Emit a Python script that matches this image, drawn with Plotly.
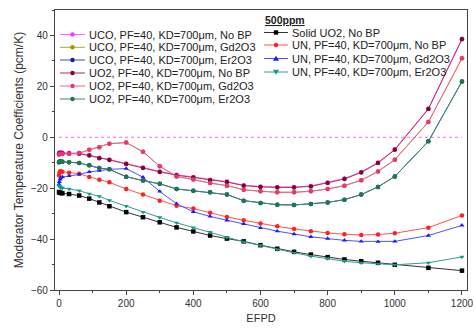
import plotly.graph_objects as go

# ---------------- data ----------------
efpd = [0, 1, 3, 5, 10, 30, 60, 90, 120, 150, 200, 250, 300, 350, 400, 450, 500,
        550, 600, 650, 700, 750, 800, 850, 900, 950, 1000, 1100, 1200]

uco_nobp = [-6.3, -6.1, -6.0, -6.0, -6.1, -6.2, -6.3, -7.0, -8.0, -8.7, -10.3, -11.9, -13.4, -14.7,
            -15.6, -16.7, -17.4, -18.8, -19.3, -19.5, -19.5, -19.1, -17.8, -16.2, -13.6, -9.9,
            -4.7, 11.3, 38.7]
uco_gd = [-6.8, -6.6, -6.5, -6.5, -6.5, -6.5, -6.2, -4.9, -3.9, -2.5, -2.1, -5.7, -11.4, -15.4,
          -16.6, -18.0, -19.0, -20.6, -21.2, -21.6, -21.6, -21.2, -20.3, -19.0, -16.9, -13.4,
          -8.8, 6.0, 31.0]
uco_er = [-9.8, -9.6, -9.5, -9.5, -9.6, -9.8, -10.1, -11.0, -12.1, -12.6, -15.5, -17.0, -18.3,
          -20.3, -21.0, -21.6, -22.5, -24.9, -25.8, -26.5, -26.6, -26.2, -25.6, -24.5, -22.5,
          -19.5, -15.4, -1.6, 21.9]
uo2_nobp = [-6.5, -6.3, -6.2, -6.2, -6.3, -6.4, -6.5, -7.2, -8.2, -8.9, -10.5, -12.1, -13.6, -14.9,
            -15.8, -16.9, -17.6, -19.0, -19.5, -19.7, -19.7, -19.3, -18.0, -16.4, -13.8, -10.1,
            -4.9, 11.1, 38.5]
uo2_gd = [-6.8, -6.6, -6.5, -6.5, -6.5, -6.5, -6.2, -4.9, -3.9, -2.5, -2.1, -5.7, -11.4, -15.4,
          -16.6, -18.0, -19.0, -20.6, -21.2, -21.6, -21.6, -21.2, -20.3, -19.0, -16.9, -13.4,
          -8.8, 6.0, 31.0]
uo2_er = [-9.8, -9.6, -9.5, -9.5, -9.6, -9.8, -10.1, -11.0, -12.1, -12.6, -15.5, -17.0, -18.3,
          -20.3, -21.0, -21.6, -22.5, -24.9, -25.8, -26.5, -26.6, -26.2, -25.6, -24.5, -22.5,
          -19.5, -15.4, -1.6, 21.9]
solid_uo2 = [-21.5, -21.7, -21.8, -21.9, -22.0, -22.3, -22.9, -24.1, -25.6, -27.1, -29.4, -31.4,
             -33.4, -35.4, -37.0, -38.6, -39.8, -40.9, -42.4, -43.8, -45.0, -46.1, -47.1, -48.0,
             -48.7, -49.3, -50.1, -51.3, -52.4]
un_nobp = [-15.0, -14.0, -13.5, -13.3, -13.5, -13.9, -14.3, -15.6, -16.7, -17.7, -20.3, -22.5,
           -24.9, -26.9, -28.0, -29.7, -31.3, -32.6, -33.9, -35.0, -36.0, -36.9, -37.6, -38.1,
           -38.4, -38.2, -37.7, -35.5, -30.7]
un_gd = [-18.5, -17.5, -16.5, -16.0, -15.6, -15.2, -14.6, -13.6, -13.1, -12.6, -12.3, -15.7,
         -21.3, -26.1, -29.3, -31.1, -32.6, -34.0, -35.6, -36.9, -38.0, -39.1, -39.8, -40.5,
         -40.9, -41.0, -40.9, -38.6, -34.6]
un_er = [-19.0, -19.3, -19.5, -19.7, -19.9, -20.3, -21.0, -22.2, -23.2, -24.8, -27.1, -29.4,
         -31.5, -33.6, -35.5, -37.3, -39.4, -41.1, -42.5, -44.1, -45.4, -46.7, -47.6, -48.7,
         -49.3, -49.7, -50.1, -49.3, -47.0]

zero_x = [0, 1200]
zero_y = [0, 0]

names_left = ["UCO, PF=40, KD=700μm, No BP", "UCO, PF=40, KD=700μm, Gd2O3",
              "UCO, PF=40, KD=700μm, Er2O3", "UO2, PF=40, KD=700μm, No BP",
              "UO2, PF=40, KD=700μm, Gd2O3", "UO2, PF=40, KD=700μm, Er2O3"]
names_right = ["Solid UO2, No BP", "UN, PF=40, KD=700μm, No BP",
               "UN, PF=40, KD=700μm, Gd2O3", "UN, PF=40, KD=700μm, Er2O3"]
legend_title = "500ppm"

x_ticks = [0, 200, 400, 600, 800, 1000, 1200]
y_ticks = [-60, -40, -20, 0, 20, 40]

# ---------------- styles ----------------
left_series = [uco_nobp, uco_gd, uco_er, uo2_nobp, uo2_gd, uo2_er]
left_colors = ["#ff33ff", "#999900", "#1a1a99", "#7a0a2a", "#f0307a", "#1a7a4a"]
left_lines = ["#ff66ff", "#aaaa33", "#4444bb", "#b0305a", "#f06090", "#3a8a6a"]
left_symbols = ["circle"] * 6

right_series = [solid_uo2, un_nobp, un_gd, un_er]
right_colors = ["#000000", "#ff2020", "#1a1aff", "#139a8a"]
right_lines = ["#333333", "#ff5050", "#5050ff", "#30a090"]
right_symbols = ["square", "circle", "triangle-up", "triangle-down"]

FONT = "Arial, Liberation Sans, sans-serif"
fig = go.Figure()

fig.add_trace(go.Scatter(x=zero_x, y=zero_y, mode="lines",
                         line=dict(color="#ff66dd", width=1, dash="dot"), showlegend=False))

for ser, c, lc, s in zip(right_series, right_colors, right_lines, right_symbols):
    fig.add_trace(go.Scatter(x=efpd, y=ser, mode="lines+markers",
                             line=dict(color=lc, width=1),
                             marker=dict(color=c, symbol=s, size=4.5), showlegend=False))
for ser, c, lc, s in zip(left_series, left_colors, left_lines, left_symbols):
    fig.add_trace(go.Scatter(x=efpd, y=ser, mode="lines+markers",
                             line=dict(color=lc, width=1),
                             marker=dict(color=c, symbol=s, size=4.5), showlegend=False))

# ---------------- manual legend (layout) ----------------
W, H = 475, 329
ML, MR, MT, MB = 55, 8, 10, 39
PW, PH = W - ML - MR, H - MT - MB


def px(xp):
    return (xp - ML) / PW


def py(yp):
    return (H - MB - yp) / PH


shapes = []
annotations = []


def marker_shape(xa, ya, color, symbol):
    r = 2.2
    base = dict(xref="paper", yref="paper", xsizemode="pixel", ysizemode="pixel",
                xanchor=xa, yanchor=ya, fillcolor=color, line=dict(width=0, color=color))
    if symbol == "circle":
        return dict(type="circle", x0=-r, x1=r, y0=-r, y1=r, **base)
    if symbol == "square":
        return dict(type="rect", x0=-r, x1=r, y0=-r, y1=r, **base)
    if symbol == "triangle-up":
        return dict(type="path", path="M -3,-2.2 L 3,-2.2 L 0,2.8 Z", **base)
    return dict(type="path", path="M -3,2.2 L 3,2.2 L 0,-2.8 Z", **base)


def legend_entry(x_line0, x_line1, x_text, yrow, name, color, lcolor, symbol):
    ya = py(yrow)
    shapes.append(dict(type="line", xref="paper", yref="paper", x0=px(x_line0), x1=px(x_line1),
                       y0=ya, y1=ya, line=dict(color=lcolor, width=1)))
    shapes.append(marker_shape(px((x_line0 + x_line1) / 2), ya, color, symbol))
    annotations.append(dict(x=px(x_text), y=ya, xref="paper", yref="paper", text=name,
                            showarrow=False, xanchor="left", yanchor="middle",
                            font=dict(family=FONT, size=11, color="#222")))


left_rows = [34.5, 47.3, 60, 73, 86, 99]
for i, name in enumerate(names_left):
    legend_entry(60, 85, 87, left_rows[i], name, left_colors[i], left_lines[i], left_symbols[i])

right_rows = [32.5, 45, 58.5, 72]
for i, name in enumerate(names_right):
    legend_entry(264, 288, 290, right_rows[i], name, right_colors[i], right_lines[i], right_symbols[i])

annotations.append(dict(x=px(263), y=py(20), xref="paper", yref="paper",
                        text="<b><u>" + legend_title + "</u></b>", showarrow=False,
                        xanchor="left", yanchor="middle",
                        font=dict(family=FONT, size=10.5, color="#222")))

fig.update_layout(
    width=W, height=H,
    margin=dict(l=ML, r=MR, t=MT, b=MB),
    paper_bgcolor="white", plot_bgcolor="white",
    font=dict(family=FONT, size=10, color="#333"),
    shapes=shapes, annotations=annotations,
    showlegend=False,
)
fig.update_xaxes(range=[-12, 1215], tickvals=x_ticks, ticks="outside", ticklen=4,
                 automargin=False,
                 showline=True, linecolor="#444", linewidth=1.2, mirror=True,
                 showgrid=False, zeroline=False,
                 minor=dict(ticks="outside", ticklen=2, dtick=100, tick0=0, tickcolor="#444"),
                 tickfont=dict(size=10, color="#333"),
                 title=dict(text="EFPD", font=dict(size=11, color="#333"), standoff=6))
fig.update_yaxes(range=[-60, 50], tickvals=y_ticks, ticks="outside", ticklen=4,
                 automargin=False,
                 showline=True, linecolor="#444", linewidth=1.2, mirror=True,
                 showgrid=False, zeroline=False,
                 minor=dict(ticks="outside", ticklen=2, dtick=10, tick0=0, tickcolor="#444"),
                 tickfont=dict(size=10, color="#333"),
                 title=dict(text="Moderator Temperature Coefficients (pcm/K)",
                            font=dict(size=12, color="#333"), standoff=4))

fig.write_html(
    "out.html",
    config={"displayModeBar": False},
    post_script="document.body.style.margin='0';"
                "document.documentElement.style.overflow='hidden';"
                "document.body.style.overflow='hidden';",
)
